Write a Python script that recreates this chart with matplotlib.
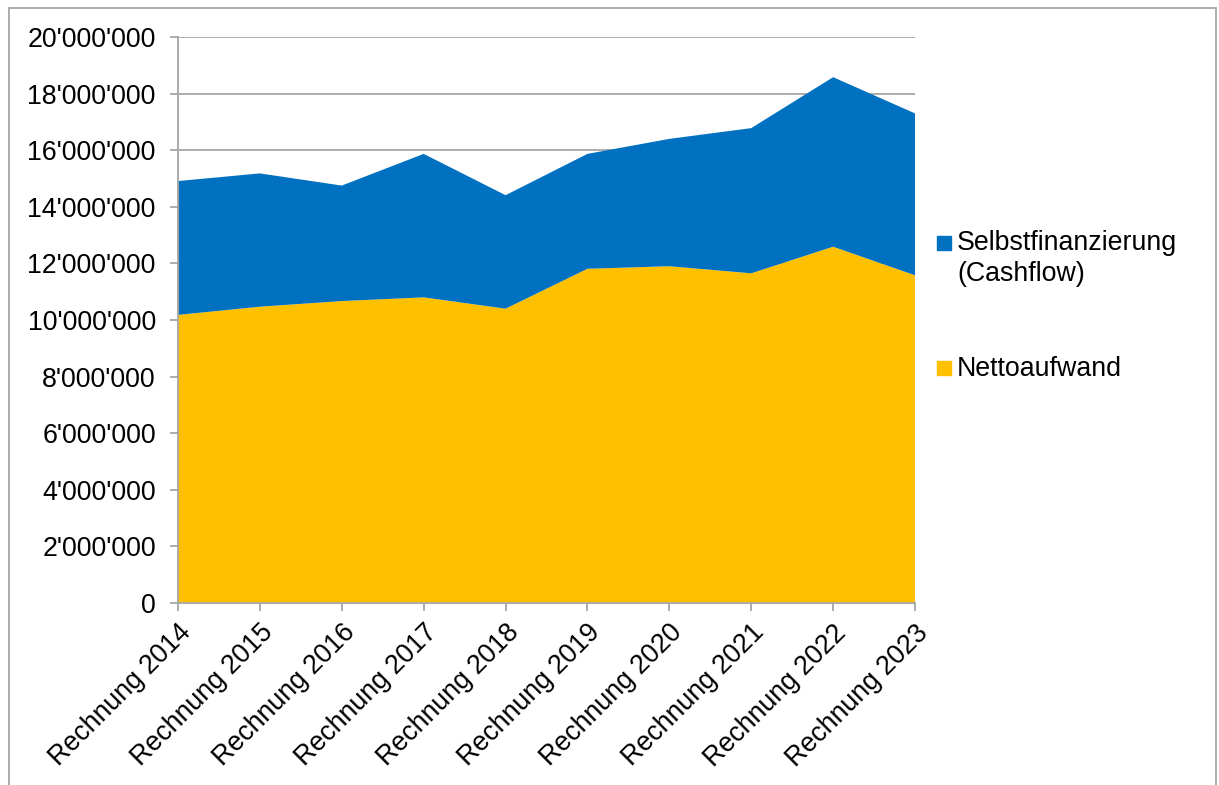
import matplotlib
matplotlib.use('Agg')
import matplotlib.pyplot as plt
from matplotlib.patches import Rectangle
from matplotlib.ticker import FuncFormatter, MultipleLocator

# values (CHF)
years = ["Rechnung 2014", "Rechnung 2015", "Rechnung 2016", "Rechnung 2017", "Rechnung 2018",
         "Rechnung 2019", "Rechnung 2020", "Rechnung 2021", "Rechnung 2022", "Rechnung 2023"]
nettoaufwand = [10180000, 10470000, 10670000, 10800000, 10400000,
                11810000, 11900000, 11650000, 12590000, 11580000]
cashflow = [4730000, 4710000, 4080000, 5070000, 4010000,
            4060000, 4500000, 5130000, 5990000, 5720000]

blue = "#0070C0"
yellow = "#FFC000"
grey = "#A6A6A6"
fs = 19.3

plt.rcParams['font.family'] = ['Liberation Sans', 'DejaVu Sans']

W, H = 1219, 785
fig = plt.figure(figsize=(W / 100, H / 100), dpi=100)
ax = fig.add_axes([178 / W, 1 - 603 / H, (915 - 178) / W, (603 - 37) / H])

x = list(range(len(years)))
ax.stackplot(x, nettoaufwand, cashflow, colors=[yellow, blue], linewidth=0, zorder=2)

ax.set_xlim(0, len(years) - 1)
ax.set_ylim(0, 20000000)
ax.yaxis.set_major_locator(MultipleLocator(2000000))
ax.yaxis.set_major_formatter(FuncFormatter(lambda v, p: f"{v:,.0f}".replace(",", "'")))
ax.grid(axis='y', color=grey, linewidth=1.3, zorder=1)
ax.set_axisbelow(True)

ax.set_xticks(x)
ax.set_xticklabels(years, rotation=45, ha='right', va='top', rotation_mode='anchor')
ax.tick_params(axis='both', labelsize=fs, color=grey, width=1.3, length=6, direction='out')
ax.tick_params(axis='y', pad=10)
ax.tick_params(axis='x', pad=6)

for side in ['top', 'right']:
    ax.spines[side].set_visible(False)
for side in ['left', 'bottom']:
    ax.spines[side].set_color(grey)
    ax.spines[side].set_linewidth(1.3)

# legend drawn by hand, Excel style (marker next to first text line)
fig.add_artist(Rectangle((937 / W, 1 - 250 / H), 14 / W, 14 / H, color=blue, transform=fig.transFigure))
fig.text(957 / W, 1 - 250 / H, "Selbstfinanzierung", fontsize=fs, va='baseline')
fig.text(957 / W, 1 - 281 / H, "(Cashflow)", fontsize=fs, va='baseline')
fig.add_artist(Rectangle((937 / W, 1 - 375 / H), 14 / W, 14 / H, color=yellow, transform=fig.transFigure))
fig.text(957 / W, 1 - 376 / H, "Nettoaufwand", fontsize=fs, va='baseline')

# chart area border
fig.add_artist(Rectangle((9 / W, -0.05), (1216 - 9) / W, 1 - 8 / H + 0.05, fill=False,
                         edgecolor=grey, linewidth=1.3, transform=fig.transFigure))

fig.savefig("out.png", dpi=100)
